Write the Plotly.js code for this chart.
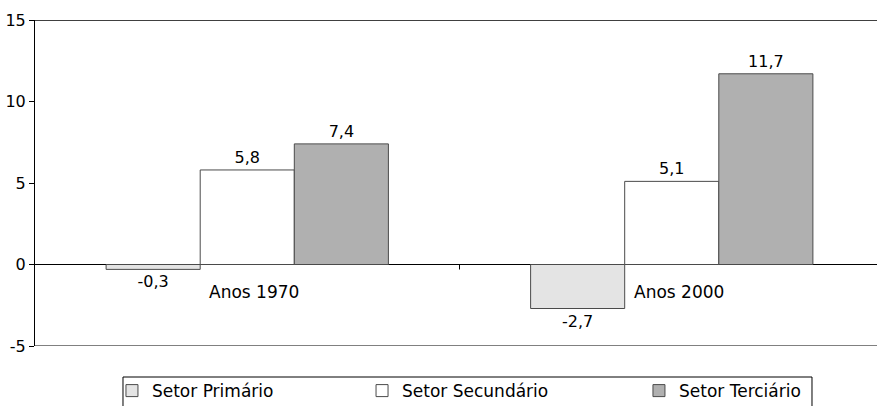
<!DOCTYPE html>
<html>
<head>
<meta charset="utf-8">
<script src="https://cdn.plot.ly/plotly-3.0.1.min.js"></script>
<style>html,body{margin:0;padding:0;background:#fff;}#chart{width:877px;height:406px;}</style>
</head>
<body>
<div id="chart"></div>
<script>
const categories = ["Anos 1970", "Anos 2000"];
const seriesNames = ["Setor Primário", "Setor Secundário", "Setor Terciário"];
const primario = [-0.3, -2.7];
const secundario = [5.8, 5.1];
const terciario = [7.4, 11.7];
const yTicks = [-5, 0, 5, 10, 15];

const colors = ["#e4e4e4", "#ffffff", "#b0b0b0"];
const values = [primario, secundario, terciario];
const legendIds = ["legend", "legend2", "legend3"];
const legendX = [0.0914, 0.3884, 0.7173];
const FONT = "DejaVu Sans";

const traces = values.map((v, i) => ({
  type: "bar",
  name: seriesNames[i],
  legend: legendIds[i],
  x: categories,
  y: v,
  marker: { color: colors[i], line: { color: "#4a4a4a", width: 1 } },
  text: v.map(d => d.toFixed(1).replace(".", ",")),
  textposition: "outside",
  textfont: { family: FONT, size: 16, color: "#000" },
  cliponaxis: false,
  hoverinfo: "skip"
}));

const annotations = categories.map(c => ({
  x: c, y: 0, xref: "x", yref: "y",
  text: c, showarrow: false,
  yanchor: "middle", yshift: -27, xshift: 7,
  font: { family: FONT, size: 17, color: "#000" }
}));

const shapes = [
  { type: "line", xref: "paper", yref: "y", x0: 0, x1: 1, y0: 15, y1: 15, line: { color: "#000", width: 1.5 } },
  { type: "line", xref: "paper", yref: "y", x0: 0, x1: 1, y0: -5, y1: -5, line: { color: "#808080", width: 2 } },
  { type: "line", xref: "x", yref: "y", ysizemode: "pixel", yanchor: 0, x0: 0.5, x1: 0.5, y0: 0, y1: -5, line: { color: "#000", width: 1 } },
  { type: "rect", xref: "paper", yref: "paper", x0: 0.1045, x1: 0.9228, y0: -0.0951, y1: -0.2, line: { color: "#000", width: 1 }, fillcolor: "rgba(0,0,0,0)" }
];

const layout = {
  width: 877, height: 406,
  margin: { l: 35, r: 0, t: 20, b: 60, autoexpand: false },
  paper_bgcolor: "#fff", plot_bgcolor: "#fff",
  font: { family: FONT, size: 16, color: "#000" },
  barmode: "group", bargap: 0.335, bargroupgap: 0,
  showlegend: true,
  xaxis: {
    type: "category", range: [-0.5, 1.4835], showticklabels: false,
    showline: false, showgrid: false, zeroline: false, ticks: "", fixedrange: true
  },
  yaxis: {
    range: [-5, 15], tickvals: yTicks, ticktext: yTicks.map(String),
    showline: true, linecolor: "#000", linewidth: 1,
    ticks: "outside", ticklen: 5, tickcolor: "#000",
    showgrid: false, zeroline: true, zerolinecolor: "#000", zerolinewidth: 1,
    tickfont: { family: FONT, size: 16, color: "#000" }, fixedrange: true
  },
  annotations: annotations,
  shapes: shapes
};
legendIds.forEach((id, i) => {
  layout[id] = {
    orientation: "h", x: legendX[i], y: -0.083, xanchor: "left", yanchor: "top",
    borderwidth: 0, bgcolor: "rgba(0,0,0,0)",
    font: { family: FONT, size: 17, color: "#000" }
  };
});

Plotly.newPlot("chart", traces, layout, { displayModeBar: false, staticPlot: true });
</script>
</body>
</html>
